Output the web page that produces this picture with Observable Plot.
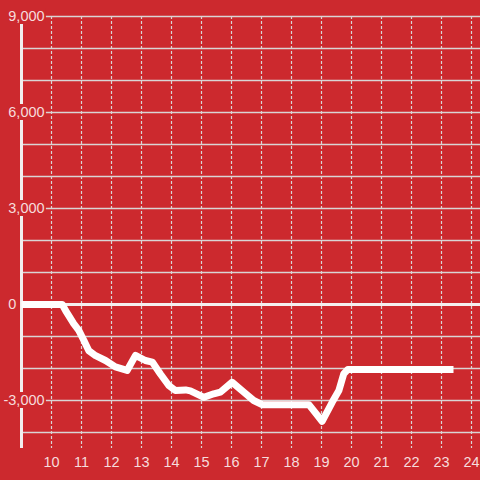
<!DOCTYPE html>
<html>
<head>
<meta charset="utf-8">
<script src="https://cdn.jsdelivr.net/npm/d3@7"></script>
<script src="https://cdn.jsdelivr.net/npm/@observablehq/plot@0.6"></script>
<style>
  html, body { margin: 0; padding: 0; background: #cc292e; }
</style>
</head>
<body>
<div id="chart"></div>
<script>
// Data
const xs = [9.0, 10.36, 10.47, 10.74, 10.91, 11.08, 11.24, 11.47, 11.8, 12.13, 12.52, 12.8, 13.13, 13.36, 13.63, 13.91, 14.13, 14.47, 14.63, 15.08, 15.41, 15.63, 16.02, 16.41, 16.74, 17.02, 18.58, 19.02, 19.36, 19.58, 19.74, 19.88, 23.4];
const values = [0, 0, -190, -600, -810, -1125, -1440, -1600, -1750, -1950, -2060, -1590, -1750, -1800, -2170, -2530, -2690, -2670, -2700, -2900, -2790, -2740, -2430, -2740, -3000, -3130, -3130, -3650, -3050, -2690, -2170, -2030, -2030];

const xTicks = [10, 11, 12, 13, 14, 15, 16, 17, 18, 19, 20, 21, 22, 23, 24];
const yGrid = [-4000, -3000, -2000, -1000, 0, 1000, 2000, 3000, 4000, 5000, 6000, 7000, 8000, 9000];
const yTicks = [-3000, 0, 3000, 6000, 9000];
const yTickLabels = ["-3,000", "0", "3,000", "6,000", "9,000"];

const data = xs.map((x, i) => ({x, v: values[i]}));
const yLabelData = yTicks.map((t, i) => ({t, label: yTickLabels[i]}));
const boxed = yLabelData.filter(d => d.t !== 0);
const zeroLabel = yLabelData.filter(d => d.t === 0);

const bg = "#cc292e";
const textColor = "#f6dcdc";
const gridColor = "#d9d4d4";

const chart = Plot.plot({
  width: 480,
  height: 480,
  marginTop: 16,
  marginBottom: 32,
  marginLeft: 21,
  marginRight: 0,
  style: {background: bg, fontFamily: "'Liberation Sans', Arial, sans-serif"},
  x: {domain: [9, 24.3], axis: null},
  y: {domain: [-4500, 9000], axis: null},
  marks: [
    Plot.ruleX(xTicks, {stroke: gridColor, strokeWidth: 1.2, strokeDasharray: "3,2"}),
    Plot.ruleY(yGrid, {stroke: gridColor, strokeWidth: 1.3}),
    Plot.ruleY([0], {x1: 9, x2: 24.3, stroke: "#f4efef", strokeWidth: 3}),
    Plot.ruleX([9], {stroke: "#f2eeee", strokeWidth: 3}),
    Plot.rect(boxed, {x1: () => 8.3, x2: () => 9.83, y1: d => d.t - 250, y2: d => d.t + 250, fill: bg}),
    Plot.text(boxed, {x: () => 9.77, y: "t", text: "label", textAnchor: "end", fill: textColor, fontSize: 14.5}),
    Plot.text(zeroLabel, {x: () => 8.83, y: "t", text: "label", textAnchor: "end", fill: textColor, fontSize: 14.5}),
    Plot.text(xTicks, {x: d => d, y: () => -4500, dy: 14, text: d => String(d), fill: textColor, fontSize: 14.5, textAnchor: "middle", lineAnchor: "middle"}),
    Plot.line(data, {x: "x", y: "v", stroke: "#ffffff", strokeWidth: 7, strokeLinecap: "butt", strokeLinejoin: "round"})
  ]
});
document.getElementById("chart").append(chart);
</script>
</body>
</html>
